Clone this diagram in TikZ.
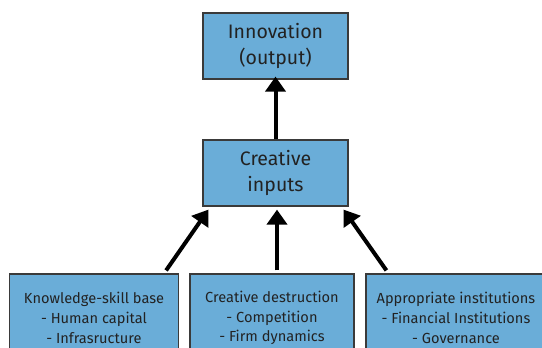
\documentclass[tikz,border=0pt]{standalone}
\usepackage{fontspec}
\setmainfont{Fira Sans}
\usetikzlibrary{arrows.meta}
\definecolor{boxfill}{HTML}{6AADD8}
\definecolor{boxline}{HTML}{3A3A3A}
\definecolor{txt}{HTML}{222222}
\begin{document}
\begin{tikzpicture}[x=1pt,y=-1pt,
  box/.style={draw=boxline,line width=1.2pt,fill=boxfill,text=txt,align=center,inner sep=0pt},
  bigbox/.style={box,minimum width=145pt,minimum height=66pt,font=\fontsize{19.5}{25.5}\selectfont},
  smallbox/.style={box,minimum height=88pt,font=\fontsize{14.6}{19.8}\selectfont},
  arr/.style={line width=4pt,-{Triangle[length=15pt,width=20pt]}}]
\useasboundingbox (0,0) rectangle (542,348);
\node[bigbox] (out) at (275.5,46) {Innovation\\(output)};
\node[bigbox] (ci) at (275.5,173) {Creative\\inputs};
\node[smallbox,minimum width=169pt] (b1) at (94,318) {Knowledge-skill base\\- Human capital\\- Infrasructure};
\node[smallbox,minimum width=164pt] (b2) at (272,318) {Creative destruction\\- Competition\\- Firm dynamics};
\node[smallbox,minimum width=180pt] (b3) at (456,318) {Appropriate institutions\\- Financial Institutions\\- Governance};
\draw[arr] (ci.north) -- ([yshift=3pt]out.south);
\draw[arr] ([shift={(-13,-3)}]b1.north east) -- ([shift={(6,3)}]ci.south west);
\draw[arr] ([shift={(1.5,-3)}]ci.south |- b2.north) -- ([shift={(1.5,3)}]ci.south);
\draw[arr] ([shift={(21,-3)}]b3.north west) -- ([shift={(-5,3)}]ci.south east);
\end{tikzpicture}
\end{document}
